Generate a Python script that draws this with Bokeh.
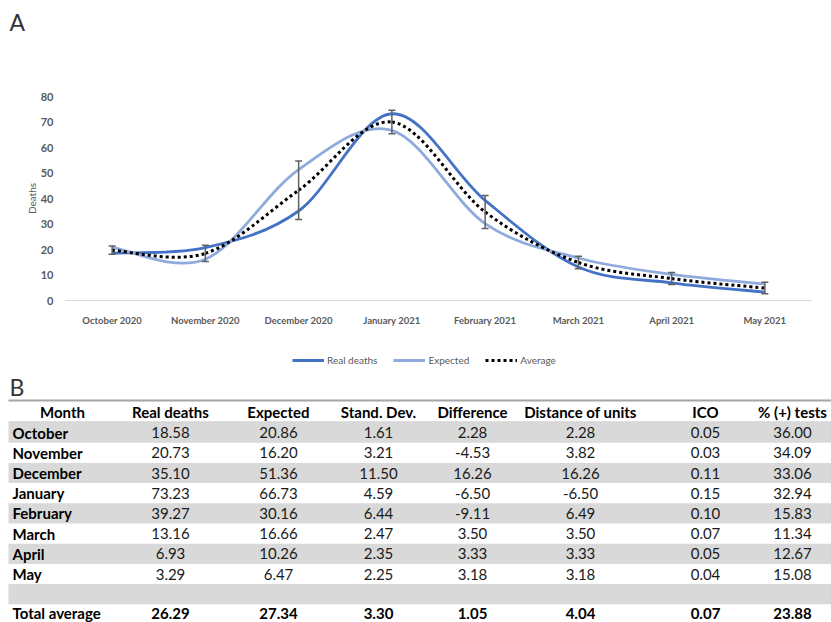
from bokeh.plotting import figure
from bokeh.models import (Range1d, FixedTicker, Legend, LegendItem, Whisker,
                          TeeHead, ColumnDataSource)
from bokeh.layouts import column
from bokeh.embed import file_html
from bokeh.resources import INLINE
from bokeh.core.properties import value

# ---------------- data ----------------
months_chart = ["October 2020", "November 2020", "December 2020", "January 2021",
                "February 2021", "March 2021", "April 2021", "May 2021"]
months_table = ["October", "November", "December", "January",
                "February", "March", "April", "May"]
real_deaths = [18.58, 20.73, 35.10, 73.23, 39.27, 13.16, 6.93, 3.29]
expected = [20.86, 16.20, 51.36, 66.73, 30.16, 16.66, 10.26, 6.47]
average = [19.72, 18.47, 43.23, 69.98, 34.72, 14.91, 8.60, 4.88]
std_dev = [1.61, 3.21, 11.50, 4.59, 6.44, 2.47, 2.35, 2.25]
difference = [2.28, -4.53, 16.26, -6.50, -9.11, 3.50, 3.33, 3.18]
distance = [2.28, 3.82, 16.26, -6.50, 6.49, 3.50, 3.33, 3.18]
ico = [0.05, 0.03, 0.11, 0.15, 0.10, 0.07, 0.05, 0.04]
pos_tests = [36.00, 34.09, 33.06, 32.94, 15.83, 11.34, 12.67, 15.08]
total_average = [26.29, 27.34, 3.30, 1.05, 4.04, 0.07, 23.88]
table_headers = ["Month", "Real deaths", "Expected", "Stand. Dev.", "Difference",
                 "Distance of units", "ICO", "% (+) tests"]
y_ticks = [0, 10, 20, 30, 40, 50, 60, 70, 80]

# ---------------- styles ----------------
FONT = "Lato"
C_REAL = "#4472C4"
C_EXP = "#8FAADC"
C_AVG = "#000000"
C_TXT = "#595959"
W = 831
NAN = float("nan")


def bezier_source(ys):
    """Smooth (Catmull-Rom style) Bezier segments through the data points."""
    n = len(ys)
    xs = list(range(n))
    d = dict(x0=[], y0=[], x1=[], y1=[], cx0=[], cy0=[], cx1=[], cy1=[])
    for i in range(n - 1):
        pm = max(i - 1, 0)
        pp = min(i + 2, n - 1)
        d["x0"].append(xs[i]); d["y0"].append(ys[i])
        d["x1"].append(xs[i + 1]); d["y1"].append(ys[i + 1])
        d["cx0"].append(xs[i] + (xs[i + 1] - xs[pm]) / 6.0)
        d["cy0"].append(ys[i] + (ys[i + 1] - ys[pm]) / 6.0)
        d["cx1"].append(xs[i + 1] - (xs[pp] - xs[i]) / 6.0)
        d["cy1"].append(ys[i + 1] - (ys[pp] - ys[i]) / 6.0)
    return ColumnDataSource(d)


def bare(fig):
    fig.frame_align = False
    fig.outline_line_color = None
    fig.xgrid.visible = False
    fig.ygrid.visible = False


# ---------------- header strip with panel letter A ----------------
h = figure(width=W, height=40, x_range=Range1d(0, W), y_range=Range1d(40, 0),
           output_backend="svg", toolbar_location=None,
           x_axis_type=None, y_axis_type=None, min_border=0)
bare(h)
h.text(x=[9], y=[21], text=["A"], text_font=value(FONT), text_font_size="23px",
       text_color="#333333", text_align="left", text_baseline="middle")

# ---------------- panel A: chart ----------------
p = figure(width=W, height=295, x_range=Range1d(-0.5, 7.5), y_range=Range1d(0, 80),
           output_backend="svg", toolbar_location=None,
           min_border_left=65, min_border_right=20, min_border_top=56, min_border_bottom=35)
bare(p)

bez_kw = dict(x0="x0", y0="y0", x1="x1", y1="y1", cx0="cx0", cy0="cy0", cx1="cx1", cy1="cy1")
p.bezier(source=bezier_source(real_deaths), line_color=C_REAL, line_width=2.8, **bez_kw)
p.bezier(source=bezier_source(expected), line_color=C_EXP, line_width=2.8, **bez_kw)
p.bezier(source=bezier_source(average), line_color=C_AVG, line_width=3,
         line_dash="3 3", **bez_kw)

err_src = ColumnDataSource(dict(
    base=list(range(len(average))),
    upper=[a + s for a, s in zip(average, std_dev)],
    lower=[a - s for a, s in zip(average, std_dev)],
))
whisk = Whisker(source=err_src, base="base", upper="upper", lower="lower",
                line_color="#606060", line_width=1.5, level="annotation",
                upper_head=TeeHead(size=7, line_color="#606060", line_width=1.5),
                lower_head=TeeHead(size=7, line_color="#606060", line_width=1.5))
p.add_layout(whisk)

# y axis
p.yaxis.ticker = FixedTicker(ticks=y_ticks)
p.yaxis.axis_line_color = None
p.yaxis.major_tick_line_color = None
p.yaxis.minor_tick_line_color = None
p.yaxis.major_label_text_font = FONT
p.yaxis.major_label_text_font_style = "bold"
p.yaxis.major_label_text_font_size = "11px"
p.yaxis.major_label_text_color = C_TXT
p.yaxis.major_label_standoff = 6
p.yaxis.axis_label = "Deaths"
p.yaxis.axis_label_text_font = FONT
p.yaxis.axis_label_text_font_style = "normal"
p.yaxis.axis_label_text_font_size = "10px"
p.yaxis.axis_label_text_color = C_TXT
p.yaxis.axis_label_standoff = 0

# x axis
p.xaxis.ticker = FixedTicker(ticks=list(range(len(months_chart))))
p.xaxis.major_label_overrides = {i: m for i, m in enumerate(months_chart)}
p.xaxis.axis_line_color = "#d9d9d9"
p.xaxis.axis_line_width = 1
p.xaxis.major_tick_line_color = None
p.xaxis.minor_tick_line_color = None
p.xaxis.major_label_text_font = FONT
p.xaxis.major_label_text_font_style = "bold"
p.xaxis.major_label_text_font_size = "9.5px"
p.xaxis.major_label_text_color = C_TXT
p.xaxis.major_label_standoff = 8

# ---------------- panel B: legend + table ----------------
t = figure(width=W, height=287, x_range=Range1d(0, W), y_range=Range1d(622, 335),
           output_backend="svg", toolbar_location=None,
           x_axis_type=None, y_axis_type=None, min_border=0)
bare(t)

# legend of panel A (proxy renderers carry only the styles)
r_real = t.line(x=[NAN, NAN], y=[NAN, NAN], line_color=C_REAL, line_width=2.8)
r_exp = t.line(x=[NAN, NAN], y=[NAN, NAN], line_color=C_EXP, line_width=2.8)
r_avg = t.line(x=[NAN, NAN], y=[NAN, NAN], line_color=C_AVG, line_width=3, line_dash="3 3")
legend = Legend(items=[LegendItem(label="Real deaths", renderers=[r_real]),
                       LegendItem(label="Expected", renderers=[r_exp]),
                       LegendItem(label="Average", renderers=[r_avg])],
                orientation="horizontal", location=(292, 256),
                border_line_color=None, background_fill_alpha=0,
                label_text_font=FONT, label_text_font_size="10px",
                label_text_color=C_TXT, glyph_width=32, glyph_height=12,
                label_standoff=3, spacing=16, padding=4, margin=0)
t.add_layout(legend, "center")

col_x = [62, 170, 278, 378, 472, 580, 705, 792]
row_h = 20.2
row0 = 422.0
n_rows = len(months_table) + 2  # months + blank + total


def row_mid(k):
    return row0 + row_h * (k + 0.5)


grey_rows = [k for k in range(n_rows - 1) if k % 2 == 0]
t.quad(left=8, right=W,
       top=[row0 + row_h * k for k in grey_rows],
       bottom=[row0 + row_h * (k + 1) for k in grey_rows],
       fill_color="#d9d9d9", line_color=None)

t.segment(x0=[8], y0=[400], x1=[W], y1=[400], line_color="#a6a6a6", line_width=2)
t.segment(x0=[8], y0=[421.5], x1=[W], y1=[421.5], line_color="#bfbfbf", line_width=1)

FS = "15px"
# header
t.text(x=col_x, y=[411] * len(col_x), text=table_headers,
       text_font=value(FONT), text_font_style="bold", text_font_size=FS,
       text_color="#000000", text_align="center", text_baseline="middle")

# month labels
t.text(x=[12] * len(months_table), y=[row_mid(k) for k in range(len(months_table))],
       text=months_table, text_font=value(FONT), text_font_style="bold",
       text_font_size=FS, text_color="#000000", text_align="left",
       text_baseline="middle")

# values
cols = [real_deaths, expected, std_dev, difference, distance, ico, pos_tests]
vx, vy, vt = [], [], []
for ci, colv in enumerate(cols):
    for k, v in enumerate(colv):
        vx.append(col_x[ci + 1])
        vy.append(row_mid(k))
        vt.append(f"{v:.2f}")
t.text(x=vx, y=vy, text=vt, text_font=value(FONT), text_font_size=FS,
       text_color="#1a1a1a", text_align="center", text_baseline="middle")

# total row
k_tot = n_rows - 1
t.text(x=[12], y=[row_mid(k_tot) - 1], text=["Total average"], text_font=value(FONT),
       text_font_style="bold", text_font_size=FS, text_color="#000000",
       text_align="left", text_baseline="middle")
t.text(x=col_x[1:], y=[row_mid(k_tot) - 1] * len(total_average),
       text=[f"{v:.2f}" for v in total_average], text_font=value(FONT),
       text_font_style="bold", text_font_size=FS, text_color="#000000",
       text_align="center", text_baseline="middle")

t.text(x=[9], y=[386.5], text=["B"], text_font=value(FONT), text_font_size="23px",
       text_color="#333333", text_align="left", text_baseline="middle")

layout = column(h, p, t, spacing=0)
open("out.html", "w").write(file_html(layout, INLINE))
